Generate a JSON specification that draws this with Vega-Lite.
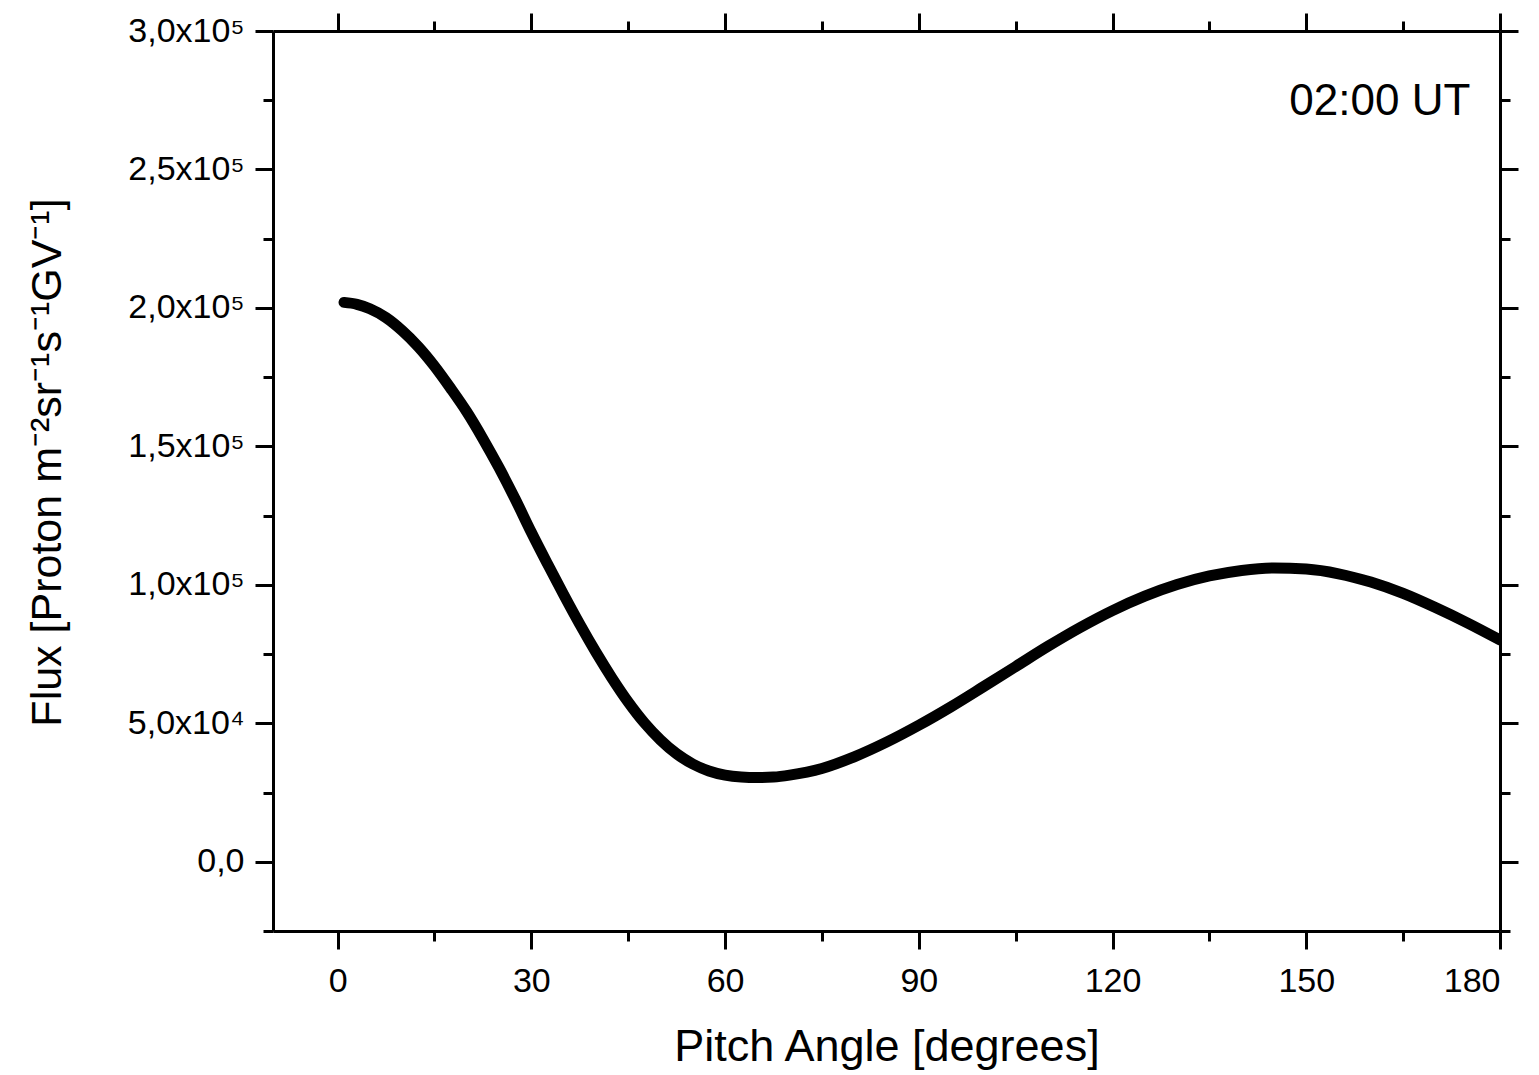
{
  "$schema": "https://vega.github.io/schema/vega-lite/v6.json",
  "width": 1227,
  "height": 900,
  "autosize": {"type": "none"},
  "padding": {"left": 273, "top": 31, "right": 39, "bottom": 144},
  "background": "white",
  "config": {
    "view": {"stroke": null},
    "font": "Liberation Sans",
    "axis": {
      "grid": false,
      "domainColor": "black",
      "domainWidth": 3,
      "tickColor": "black",
      "tickWidth": 3,
      "labelColor": "black",
      "titleColor": "black",
      "labelFont": "Liberation Sans",
      "titleFont": "Liberation Sans",
      "titleFontWeight": "normal"
    }
  },
  "data": {
    "values": [
      {"angle": 1, "flux": 202000},
      {"angle": 3, "flux": 201300},
      {"angle": 5, "flux": 199700},
      {"angle": 7.5, "flux": 196500},
      {"angle": 10, "flux": 191800},
      {"angle": 12.5, "flux": 186000},
      {"angle": 15, "flux": 179000},
      {"angle": 17.5, "flux": 171000},
      {"angle": 20, "flux": 162500},
      {"angle": 22.5, "flux": 152800},
      {"angle": 25, "flux": 142300},
      {"angle": 27.5, "flux": 131000},
      {"angle": 30, "flux": 119000},
      {"angle": 32.5, "flux": 107600},
      {"angle": 35, "flux": 96500},
      {"angle": 37.5, "flux": 85800},
      {"angle": 40, "flux": 75700},
      {"angle": 42.5, "flux": 66300},
      {"angle": 45, "flux": 57700},
      {"angle": 47.5, "flux": 50200},
      {"angle": 50, "flux": 44000},
      {"angle": 52.5, "flux": 39000},
      {"angle": 55, "flux": 35300},
      {"angle": 57.5, "flux": 32800},
      {"angle": 60, "flux": 31300},
      {"angle": 62.5, "flux": 30600},
      {"angle": 65, "flux": 30400},
      {"angle": 67.5, "flux": 30600},
      {"angle": 70, "flux": 31300},
      {"angle": 75, "flux": 33700},
      {"angle": 80, "flux": 37900},
      {"angle": 85, "flux": 43200},
      {"angle": 90, "flux": 49300},
      {"angle": 95, "flux": 56000},
      {"angle": 100, "flux": 63200},
      {"angle": 105, "flux": 70500},
      {"angle": 110, "flux": 77800},
      {"angle": 115, "flux": 84600},
      {"angle": 120, "flux": 90700},
      {"angle": 125, "flux": 95900},
      {"angle": 130, "flux": 100100},
      {"angle": 135, "flux": 103200},
      {"angle": 140, "flux": 105200},
      {"angle": 145, "flux": 106100},
      {"angle": 150, "flux": 105700},
      {"angle": 155, "flux": 104000},
      {"angle": 160, "flux": 101000},
      {"angle": 165, "flux": 96900},
      {"angle": 170, "flux": 91800},
      {"angle": 175, "flux": 86200},
      {"angle": 180, "flux": 80100}
    ]
  },
  "resolve": {"axis": {"x": "independent", "y": "independent"}},
  "layer": [
    {
      "mark": {"type": "line", "opacity": 0},
      "encoding": {
        "x": {"field": "angle", "type": "quantitative", "scale": {"domain": [-10, 180], "nice": false, "zero": false},
          "axis": {"orient": "bottom", "values": [15, 45, 75, 105, 135, 165], "tickSize": 10, "labels": false, "domain": false, "title": null}},
        "y": {"field": "flux", "type": "quantitative", "scale": {"domain": [-25000, 300000], "nice": false, "zero": false},
          "axis": {"orient": "left", "values": [-25000, 25000, 75000, 125000, 175000, 225000, 275000], "tickSize": 10, "labels": false, "domain": false, "title": null}}
      }
    },
    {
      "mark": {"type": "line", "opacity": 0},
      "encoding": {
        "x": {"field": "angle", "type": "quantitative",
          "axis": {"orient": "top", "values": [15, 45, 75, 105, 135, 165], "tickSize": 10, "labels": false, "domain": false, "title": null}},
        "y": {"field": "flux", "type": "quantitative",
          "axis": {"orient": "right", "values": [-25000, 25000, 75000, 125000, 175000, 225000, 275000], "tickSize": 10, "labels": false, "domain": false, "title": null}}
      }
    },
    {
      "mark": {"type": "line", "opacity": 0},
      "encoding": {
        "x": {"field": "angle", "type": "quantitative",
          "axis": {"orient": "top", "values": [0, 30, 60, 90, 120, 150, 180], "tickSize": 18, "labels": false, "title": null}},
        "y": {"field": "flux", "type": "quantitative",
          "axis": {"orient": "right", "values": [0, 50000, 100000, 150000, 200000, 250000, 300000], "tickSize": 18, "labels": false, "title": null}}
      }
    },
    {
      "mark": {"type": "line", "color": "black", "strokeWidth": 11, "strokeCap": "round", "strokeJoin": "round", "interpolate": "monotone", "clip": true},
      "encoding": {
        "x": {"field": "angle", "type": "quantitative",
          "axis": {"orient": "bottom", "values": [0, 30, 60, 90, 120, 150, 180], "tickSize": 18, "labelFontSize": 34, "labelPadding": 15,
            "title": "Pitch Angle [degrees]", "titleFontSize": 45, "titlePadding": 26}},
        "y": {"field": "flux", "type": "quantitative",
          "axis": {"orient": "left", "values": [0, 50000, 100000, 150000, 200000, 250000, 300000], "tickSize": 18, "labelFontSize": 34, "labelPadding": 11,
            "labelExpr": "datum.value == 0 ? '0,0' : (datum.value < 100000 ? replace(format(datum.value / 10000, '.1f'), '.', ',') + 'x10⁴' : replace(format(datum.value / 100000, '.1f'), '.', ',') + 'x10⁵')",
            "title": "Flux [Proton m⁻²sr⁻¹s⁻¹GV⁻¹]", "titleFontSize": 43, "titlePadding": 58, "titleY": 431}}
      }
    },
    {
      "data": {"values": [{"note": "02:00 UT"}]},
      "mark": {"type": "text", "fontSize": 44, "align": "right", "baseline": "alphabetic", "color": "black", "font": "Liberation Sans"},
      "encoding": {
        "x": {"datum": 175.4, "type": "quantitative", "axis": null},
        "y": {"datum": 269700, "type": "quantitative", "axis": null},
        "text": {"field": "note", "type": "nominal"}
      }
    }
  ]
}
